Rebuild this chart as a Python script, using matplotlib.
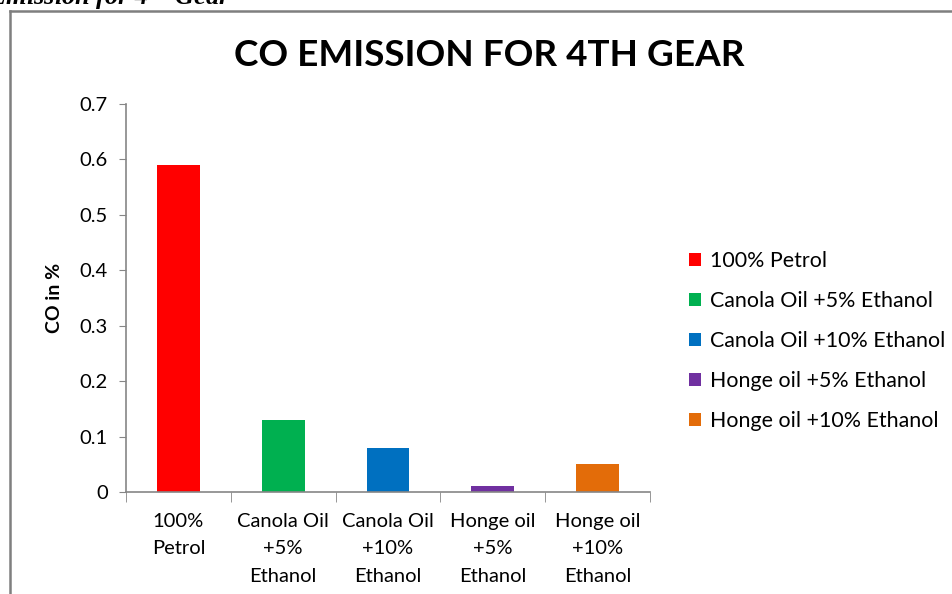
import matplotlib.pyplot as plt
from matplotlib.lines import Line2D
from matplotlib.patches import Patch

categories = ["100%\nPetrol", "Canola Oil\n+5%\nEthanol", "Canola Oil\n+10%\nEthanol",
              "Honge oil\n+5%\nEthanol", "Honge oil\n+10%\nEthanol"]
series_names = ["100% Petrol", "Canola Oil +5% Ethanol", "Canola Oil +10% Ethanol",
                "Honge oil +5% Ethanol", "Honge oil +10% Ethanol"]
co_values = [0.59, 0.13, 0.08, 0.01, 0.05]
colors = ["#FF0000", "#00B050", "#0070C0", "#7030A0", "#E36C09"]

plt.rcParams['font.family'] = ['Lato', 'DejaVu Sans']
axis_gray = "#868686"

fig = plt.figure(figsize=(9.53, 5.94), dpi=100)
ax = fig.add_axes([126 / 953, 1 - 492 / 594, 524 / 953, 388 / 594])

x = list(range(len(co_values)))
ax.bar(x, co_values, width=0.41, color=colors)

ax.set_xlim(-0.5, len(co_values) - 0.5)
ax.set_ylim(0, 0.7)
ax.set_yticks([0, 0.1, 0.2, 0.3, 0.4, 0.5, 0.6, 0.7])
ax.set_yticklabels(["0", "0.1", "0.2", "0.3", "0.4", "0.5", "0.6", "0.7"], fontsize=14.5)
ax.set_xticks(x)
ax.set_xticklabels(categories, fontsize=14.5, linespacing=1.75, va='top')
ax.tick_params(axis='x', length=0, pad=15)
ax.tick_params(axis='y', length=5, color=axis_gray, pad=8)
ax.set_xticks([i - 0.5 for i in range(len(co_values) + 1)], minor=True)
ax.tick_params(axis='x', which='minor', length=7, color=axis_gray, direction='out')

for s in ["top", "right"]:
    ax.spines[s].set_visible(False)
for s in ["left", "bottom"]:
    ax.spines[s].set_color(axis_gray)
    ax.spines[s].set_linewidth(1.2)

ax.set_ylabel("CO in %", fontsize=14, fontweight='bold', labelpad=12)
fig.text(489 / 953, 1 - 55 / 594, "CO EMISSION FOR 4TH GEAR", fontsize=26.6,
         fontweight='bold', ha='center', va='center')

handles = [Patch(facecolor=c, edgecolor='none') for c in colors]
fig.legend(handles, series_names, loc='center left', bbox_to_anchor=(670 / 953, 1 - 341 / 594),
           frameon=False, fontsize=15.4, handlelength=0.53, handleheight=0.53,
           handletextpad=0.42, labelspacing=0.93)

# outer chart frame and cut-off caption above it
fig.add_artist(Line2D([10 / 953, 10 / 953], [0, 1 - 11 / 594], color="#7F7F7F", lw=1.8))
fig.add_artist(Line2D([10 / 953, 1], [1 - 11 / 594, 1 - 11 / 594], color="#7F7F7F", lw=1.8))
fig.text(-12 / 953, 1 - 5 / 594, "Emission for 4$^{th}$ Gear", fontsize=19, fontstyle='italic',
         fontweight='bold', family='Liberation Serif', ha='left', va='baseline')

fig.savefig("out.png", dpi=100)
